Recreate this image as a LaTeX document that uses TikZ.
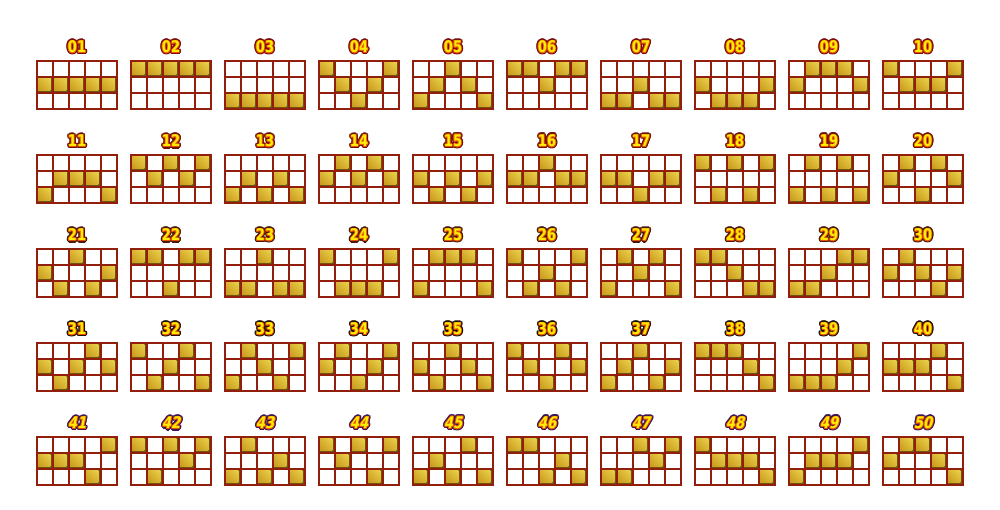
\documentclass[tikz,border=0pt]{standalone}
\usepackage{fontspec}
\usetikzlibrary{shadings}
\newfontfamily\lblfont[FakeStretch=0.82]{DejaVu Sans}
\newfontfamily\lblfontit[FakeStretch=0.82,FakeSlant=0.22]{DejaVu Sans}
\definecolor{gridred}{HTML}{921E0C}
\definecolor{goldshadow}{HTML}{6E5410}
\definecolor{goldA}{HTML}{C99A1E}
\definecolor{goldB}{HTML}{EBD24A}
\definecolor{goldC}{HTML}{D9B432}
\definecolor{lblyellow}{HTML}{FFEE00}
\definecolor{lblorange}{HTML}{E8500A}
\definecolor{dark0}{HTML}{7A0E0A}
\definecolor{dark1}{HTML}{6A1408}
\definecolor{dark2}{HTML}{4A1A08}
\definecolor{dark3}{HTML}{1E1208}
\definecolor{dark4}{HTML}{3E1654}
\tikzset{
  gridline/.style={draw=gridred, line width=2pt, line cap=square},
  lbl0/.style={inner sep=0pt, font=\lblfont\bfseries\fontsize{16}{16}\selectfont},
  lbl1/.style={lbl0}, lbl2/.style={lbl0}, lbl3/.style={lbl0},
  lbl4/.style={inner sep=0pt, font=\lblfontit\bfseries\fontsize{16}{16}\selectfont},
}
\newcommand\paygold[2]{%
  \fill[goldshadow] (#1+1,#2+1) rectangle (#1+15,#2+15);
  \shade[lower left=goldA, upper right=goldB, upper left=goldC, lower right=goldC]
    (#1+1,#2+1) rectangle (#1+13.3,#2+13.3);
}
\begin{document}
\begin{tikzpicture}[x=1pt,y=-1pt]
\useasboundingbox (0,0) rectangle (1000,510);
\fill[white] (0,0) rectangle (1000,510);
\foreach \lab/\a/\b/\c/\d/\e [count=\k from 0] in {
01/2/2/2/2/2, 02/1/1/1/1/1, 03/3/3/3/3/3, 04/1/2/3/2/1, 05/3/2/1/2/3,
06/1/1/2/1/1, 07/3/3/2/3/3, 08/2/3/3/3/2, 09/2/1/1/1/2, 10/1/2/2/2/1,
11/3/2/2/2/3, 12/1/2/1/2/1, 13/3/2/3/2/3, 14/2/1/2/1/2, 15/2/3/2/3/2,
16/2/2/1/2/2, 17/2/2/3/2/2, 18/1/3/1/3/1, 19/3/1/3/1/3, 20/2/1/3/1/2,
21/2/3/1/3/2, 22/1/1/3/1/1, 23/3/3/1/3/3, 24/1/3/3/3/1, 25/3/1/1/1/3,
26/1/3/2/3/1, 27/3/1/2/1/3, 28/1/1/2/3/3, 29/3/3/2/1/1, 30/2/1/2/3/2,
31/2/3/2/1/2, 32/1/3/2/1/3, 33/3/1/2/3/1, 34/2/1/3/2/1, 35/2/3/1/2/3,
36/1/2/3/1/2, 37/3/2/1/3/2, 38/1/1/1/2/3, 39/3/3/3/2/1, 40/2/2/2/1/3,
41/2/2/2/3/1, 42/1/3/1/2/1, 43/3/1/3/2/3, 44/1/2/1/3/1, 45/3/2/3/1/3,
46/1/1/3/2/3, 47/3/3/1/2/1, 48/1/2/2/2/3, 49/3/2/2/2/1, 50/2/1/1/2/3}{
  \pgfmathtruncatemacro\gc{mod(\k,10)}
  \pgfmathtruncatemacro\gr{div(\k,10)}
  \pgfmathsetmacro\gx{37+94*\gc}
  \pgfmathsetmacro\gy{61+94*\gr}
  % gold squares
  \foreach \v [count=\i from 0] in {\a,\b,\c,\d,\e}{
    \pgfmathsetmacro\cx{\gx+16*\i}
    \pgfmathsetmacro\cy{\gy+16*(\v-1)}
    \paygold{\cx}{\cy}
  }
  % grid
  \draw[gridline] (\gx,\gy) rectangle ++(80,48);
  \foreach \i in {1,2,3,4}{\draw[gridline] (\gx+16*\i,\gy) -- ++(0,48);}
  \foreach \j in {1,2}{\draw[gridline] (\gx,\gy+16*\j) -- ++(80,0);}
  % label
  \foreach \ang in {0,30,...,330}{
    \node[lbl\gr,text=dark\gr,shift={(\ang:2.1)}] at (\gx+40,\gy-14) {\lab};
  }
  \foreach \ang in {0,45,...,315}{
    \node[lbl\gr,text=lblorange,shift={(\ang:0.8)}] at (\gx+40,\gy-14) {\lab};
  }
  \node[lbl\gr,text=lblyellow] (l\k) at (\gx+40,\gy-14) {\lab};
}
\end{tikzpicture}
\end{document}
